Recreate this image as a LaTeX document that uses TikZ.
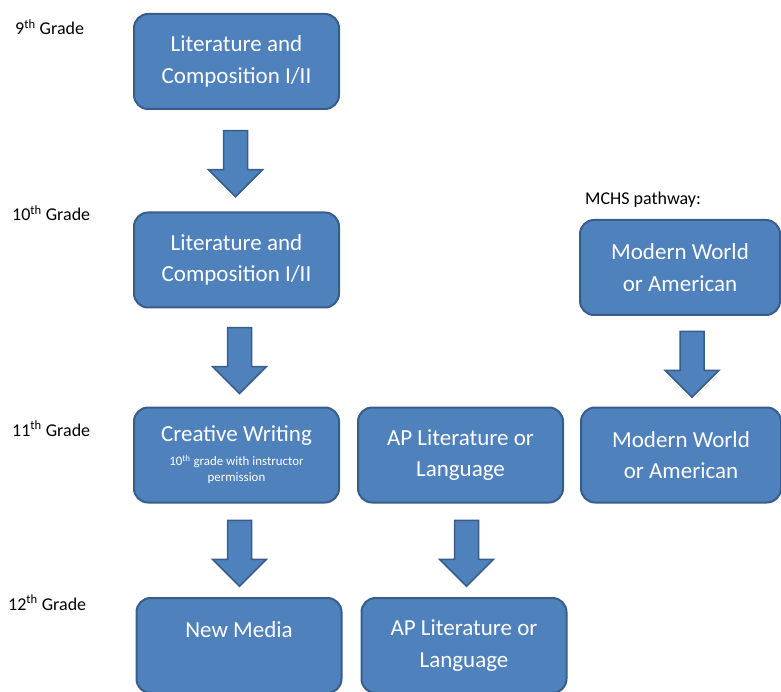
\documentclass[tikz,border=0pt]{standalone}
\usepackage{fontspec}
\setmainfont{Carlito}
\usepackage{tikz}
\usetikzlibrary{calc}
\definecolor{course}{RGB}{79, 129, 189}
\definecolor{courseline}{RGB}{56, 93, 138}

\begin{document}
\begin{tikzpicture}[x=1pt, y=-1pt,
  course/.style={draw=courseline, fill=course, line width=2pt, rounded corners=14pt,
    text=white, align=center, minimum width=205pt, minimum height=95pt, inner sep=0pt,
    font=\fontsize{23}{31.5}\selectfont},
  grade/.style={anchor=base west, inner sep=0pt, font=\fontsize{18}{22}\selectfont},
  blockarrow/.style={draw=courseline, fill=course, line width=1.5pt, line join=miter}]
  \useasboundingbox (0, 0) rectangle (781, 692);
  \clip (0, 0) rectangle (781, 692);

  % Grade labels
  \node[grade] (g9) at (15, 35) {9\textsuperscript{th} Grade};
  \node[grade] (g10) at (12, 221) {10\textsuperscript{th} Grade};
  \node[grade] (g11) at (12, 436) {11\textsuperscript{th} Grade};
  \node[grade] (g12) at (8, 610) {12\textsuperscript{th} Grade};
  \node[grade] (mchs) at (585, 205) {MCHS pathway:};

  % Courses
  \node[course] (lit9) at (236.5, 61.5) {Literature and\\Composition I/II};
  \node[course] (lit10) at (236.5, 260) {Literature and\\Composition I/II};
  \node[course] (cw11) at (236.5, 455) {Creative Writing\\[-7.5pt]
    {\fontsize{12.9}{16}\selectfont 10\textsuperscript{th} grade with instructor}\\[-15.5pt]
    {\fontsize{12.9}{16}\selectfont permission}};
  \node[course] (ap11) at (460.5, 455) {AP Literature or\\Language};
  \node[course] (media12) at (239, 645.5) {New Media\\~};
  \node[course] (ap12) at (464, 645.5) {AP Literature or\\Language};

  % MCHS pathway
  \node[course, minimum width=200pt] (mchs10) at (680, 267.5) {Modern World\\or American};
  \node[course, minimum width=200pt] (mchs11) at (681, 455) {Modern World\\or American};

  \foreach \a/\b/\dx in {lit9/lit10/-1, lit10/cw11/3, cw11/media12/3, ap11/ap12/6, mchs10/mchs11/12} {
    \path let \p1 = (\a.south), \p2 = (\b.north) in
      coordinate (mid) at (\x1+\dx pt, 0.5*\y1+0.5*\y2-3pt);
    \filldraw[blockarrow, shift={(mid)}] (-12, -33) -- (12, -33) -- (12, 6) -- (27, 6)
      -- (0, 33) -- (-27, 6) -- (-12, 6) -- cycle;
  }

\end{tikzpicture}
\end{document}
